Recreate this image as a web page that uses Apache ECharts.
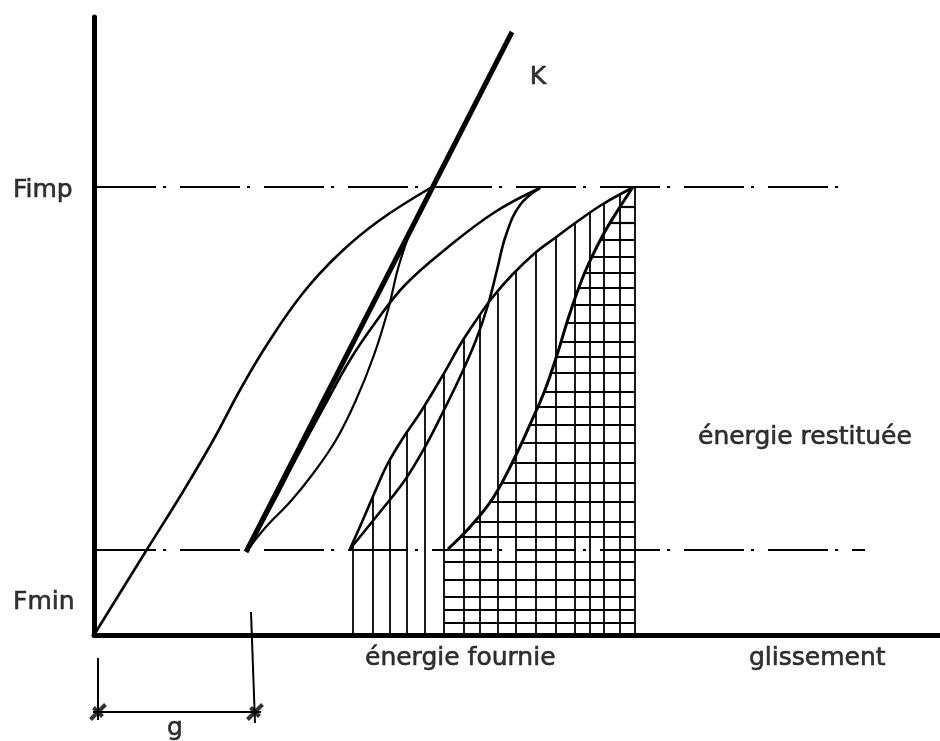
<!DOCTYPE html>
<html>
<head>
<meta charset="utf-8">
<script src="https://cdn.jsdelivr.net/npm/echarts@6/dist/echarts.min.js"></script>
<style>
html,body{margin:0;padding:0;background:#ffffff;}
#chart{width:940px;height:741px;}
</style>
</head>
<body>
<div id="chart"></div>
<script>
// ---- data (chart units: x = glissement, y = force) ----
const fImp = 448;
const fMin = 85;
const fImpLineX = [2, 756];
const fMinLineX = [2, 771];

const loading0   = [[0,0],[52,84],[90,145],[121,198],[146,245],[174,292],[209,342],[246,382],[286,415],[338,448]];
const stiffnessK = [[152,83],[418,603]];
const unloading1 = [[338,448],[319,410],[305,370],[294,325],[280,280],[262,235],[242,195],[218,160],[196,133],[171,107],[153,84]];
const reloading1 = [[153,84],[178,130],[204,180],[231,230],[256,275],[281,312],[311,350],[353,387],[401,423],[446,447]];
const unloading2 = [[446,447],[426,430],[412,400],[403,365],[394,330],[382,295],[366,258],[349,223],[331,188],[311,155],[286,123],[256,86]];
const reloading2 = [[256,86],[268,113],[280,141],[293,170],[309,197],[326,222],[349,260],[366,290],[381,313],[398,337],[418,360],[441,382],[461,397],[484,414],[509,431],[538,447]];
const unloading3 = [[539,448],[524,425],[509,400],[491,363],[476,322],[463,280],[451,245],[438,215],[422,180],[399,137],[376,108],[354,86]];

// vertical hatching (énergie fournie): x positions and their heights
const hatchX   = [259, 279, 296, 313, 331, 350, 370, 386, 404, 422, 442, 462, 481, 496, 510, 526, 541];
const hatchTop = [ 93, 138, 175, 203, 230, 261, 295, 320, 342, 364, 383, 398, 412, 422, 432, 440, 448];

// horizontal hatching (énergie restituée): row heights, left ends, right end
const gridRowY    = [428, 412, 395, 378, 362, 347, 330, 312, 293, 278, 262, 243, 228, 210, 192, 172, 152, 133, 113, 98, 73, 55, 38, 25, 12];
const gridRowLeft = [526, 516, 507, 498, 491, 485, 479, 473, 467, 462, 457, 450, 444, 436, 427, 418, 407, 396, 380, 366, 350, 350, 350, 350, 350];
const gridRight = 541;

// dimension "g"
const gStart = 4, gEnd = 161, gLevel = -77;
const gLeftTick = [-23, -85];
const gRightTick = [23, -88];

// texts
const labels = [
  {name: 'Fimp', value: [-81, 445], align: 'left'},
  {name: 'Fmin', value: [-81, 33], align: 'left'},
  {name: 'K', value: [444, 558], align: 'center'},
  {name: 'énergie restituée', value: [604, 198], align: 'left'},
  {name: 'énergie fournie', value: [271, -23], align: 'left'},
  {name: 'glissement', value: [655, -23], align: 'left'},
  {name: 'g', value: [81, -93], align: 'center'}
];

// ---- chart ----
const chart = echarts.init(document.getElementById('chart'), null, {renderer: 'canvas'});
const black = '#000000';
const dashDot = [60, 7, 3, 14];

function curve(data, width) {
  return {type: 'line', data: data, showSymbol: false, smooth: 0.4, clip: false,
          lineStyle: {color: black, width: width}, z: 3};
}

const hatchSegs = hatchX.map((x, i) => ({coords: [[x, 0], [x, hatchTop[i]]]}));
const rowSegs = gridRowY.map((y, i) => ({coords: [[gridRowLeft[i], y], [gridRight, y]]}));
const dimSegs = [
  {coords: [[gStart, gLeftTick[0]], [gStart, gLeftTick[1]]]},
  {coords: [[gEnd - 4, gRightTick[0]], [gEnd, gRightTick[1]]]},
  {coords: [[gStart - 5, gLevel], [gEnd + 6, gLevel]]}
];

chart.setOption({
  animation: false,
  backgroundColor: '#ffffff',
  grid: {left: 94, right: 0, top: 17, bottom: 106},
  xAxis: {type: 'value', min: 0, max: 846,
    axisLine: {show: true, onZero: false, lineStyle: {color: black, width: 5}},
    axisTick: {show: false}, axisLabel: {show: false}, splitLine: {show: false}},
  yAxis: {type: 'value', min: 0, max: 618,
    axisLine: {show: true, onZero: false, lineStyle: {color: black, width: 5}},
    axisTick: {show: false}, axisLabel: {show: false}, splitLine: {show: false}},
  series: [
    {type: 'line', data: [[fImpLineX[0], fImp], [fImpLineX[1], fImp]], showSymbol: false,
     lineStyle: {color: black, width: 2, type: dashDot}, z: 2},
    {type: 'line', data: [[fMinLineX[0], fMin], [fMinLineX[1], fMin]], showSymbol: false,
     lineStyle: {color: black, width: 2, type: dashDot}, z: 2},
    curve(loading0, 2.6),
    curve(unloading1, 2.2),
    curve(reloading1, 2.6),
    curve(unloading2, 2.6),
    curve(reloading2, 2.6),
    curve(unloading3, 3),
    {type: 'line', data: stiffnessK, showSymbol: false, lineStyle: {color: black, width: 5}, z: 4},
    {type: 'lines', coordinateSystem: 'cartesian2d', data: hatchSegs,
     lineStyle: {color: black, width: 1.8, opacity: 1}, z: 2},
    {type: 'lines', coordinateSystem: 'cartesian2d', data: rowSegs,
     lineStyle: {color: black, width: 2.2, opacity: 1}, z: 2},
    {type: 'lines', coordinateSystem: 'cartesian2d', data: dimSegs, clip: false,
     lineStyle: {color: black, width: 2, opacity: 1}, z: 2},
    {type: 'scatter', data: [[gStart, gLevel], [gEnd, gLevel]], clip: false,
     symbol: 'path://M0,10L10,0M2,2L8,8', symbolSize: 15,
     itemStyle: {color: 'none', borderColor: black, borderWidth: 4}, z: 5},
    {type: 'scatter', data: labels.map(l => ({name: l.name, value: l.value,
        label: {align: l.align}})), clip: false, symbolSize: 0,
     label: {show: true, position: 'inside', formatter: '{b}', color: black,
       textBorderColor: black, textBorderWidth: 0.6,
       fontFamily: 'DejaVu Sans', fontSize: 25, verticalAlign: 'middle'}, z: 6}
  ]
});
</script>
</body>
</html>
